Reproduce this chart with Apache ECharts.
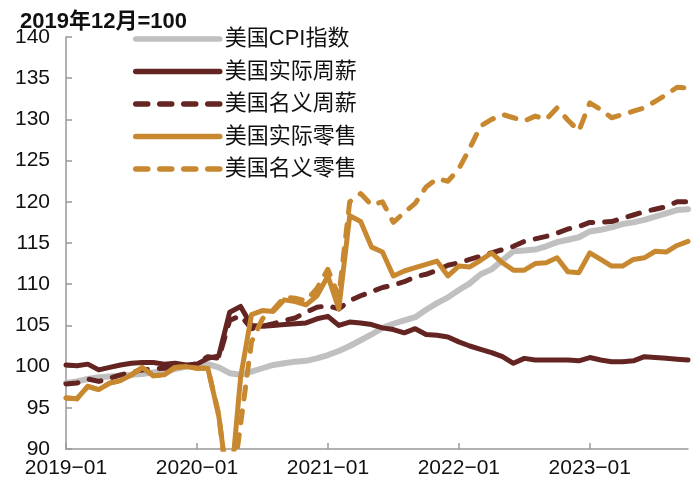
<!DOCTYPE html>
<html>
<head>
<meta charset="utf-8">
<script src="https://cdn.jsdelivr.net/npm/echarts@6/dist/echarts.min.js"></script>
<style>
html,body{margin:0;padding:0;background:#fff;}
#c{width:700px;height:501px;}
</style>
</head>
<body>
<div id="c"></div>
<script>
var categories = [
"2019-01","2019-02","2019-03","2019-04","2019-05","2019-06","2019-07","2019-08","2019-09","2019-10","2019-11","2019-12",
"2020-01","2020-02","2020-03","2020-04","2020-05","2020-06","2020-07","2020-08","2020-09","2020-10","2020-11","2020-12",
"2021-01","2021-02","2021-03","2021-04","2021-05","2021-06","2021-07","2021-08","2021-09","2021-10","2021-11","2021-12",
"2022-01","2022-02","2022-03","2022-04","2022-05","2022-06","2022-07","2022-08","2022-09","2022-10","2022-11","2022-12",
"2023-01","2023-02","2023-03","2023-04","2023-05","2023-06","2023-07","2023-08","2023-09","2023-10"];

var seriesNames = ["美国CPI指数","美国实际周薪","美国名义周薪","美国实际零售","美国名义零售"];

var cpi = [98.0,98.2,98.5,98.7,98.8,98.9,99.0,99.1,99.3,99.5,99.7,100.0,
100.2,100.3,99.9,99.2,99.0,99.4,99.8,100.2,100.4,100.6,100.7,101.0,
101.4,101.9,102.5,103.2,103.9,104.7,105.2,105.6,106.0,106.9,107.7,108.4,
109.3,110.1,111.2,111.8,112.9,114.0,114.1,114.2,114.6,115.1,115.4,115.7,
116.4,116.6,116.9,117.3,117.5,117.8,118.2,118.6,119.0,119.1];

var realWage = [100.2,100.1,100.3,99.6,99.9,100.2,100.4,100.5,100.5,100.3,100.4,100.2,
100.3,101.0,101.3,106.6,107.3,105.0,104.9,105.0,105.1,105.2,105.3,105.8,
106.1,105.0,105.4,105.3,105.1,104.7,104.5,104.1,104.6,103.9,103.8,103.6,
103.0,102.5,102.1,101.7,101.2,100.4,101.0,100.8,100.8,100.8,100.8,100.7,
101.1,100.8,100.6,100.6,100.7,101.2,101.1,101.0,100.9,100.8];

var nominalWage = [97.9,98.0,98.5,98.2,98.6,99.0,99.3,99.6,99.7,99.8,100.0,100.0,
100.4,101.2,101.0,105.6,106.2,104.6,104.9,105.2,105.6,105.9,106.6,107.2,
107.4,107.0,108.0,108.6,109.1,109.6,109.9,110.3,110.9,111.2,111.7,112.3,
112.6,113.0,113.4,113.8,114.2,114.6,115.2,115.5,115.8,116.2,116.7,117.0,
117.5,117.5,117.6,118.0,118.4,118.8,119.1,119.4,120.0,120.0];

var realRetail = [96.2,96.1,97.6,97.2,98.0,98.3,99.0,99.9,98.9,99.0,99.9,100.0,
99.8,99.8,94.0,84.0,98.7,106.3,106.8,106.7,108.1,107.9,107.5,108.6,
111.0,107.0,118.3,117.6,114.5,113.9,111.0,111.6,112.0,112.4,112.8,111.0,
112.2,112.1,112.9,113.8,112.6,111.7,111.7,112.5,112.6,113.2,111.5,111.4,
113.8,113.0,112.2,112.2,113.0,113.2,114.0,113.9,114.7,115.2];

var nominalRetail = [96.2,96.1,97.6,97.2,98.0,98.3,99.0,99.9,98.9,99.0,99.9,100.0,
99.8,99.8,94.2,83.0,93.0,103.0,105.8,106.9,108.4,108.3,108.0,109.5,
111.8,108.5,120.0,121.0,119.6,120.0,117.5,118.7,119.8,121.8,122.8,122.5,
124.0,126.5,129.2,130.0,130.6,130.2,129.8,130.4,130.0,131.4,129.9,128.6,
132.0,131.2,130.2,130.6,131.0,131.4,132.2,133.0,133.9,133.8];

var GRAY = "#c0c0c0", MAROON = "#632422", GOLD = "#c8882f";
var FONT = "Liberation Sans, Noto Sans CJK SC, sans-serif";
var DASH = [12, 12];

function mk(name, data, color, dashed, width) {
  return {
    name: name, type: "line", data: data, symbol: "none", clip: true,
    lineStyle: { color: color, width: width, type: dashed ? DASH : "solid", cap: "round", join: "round" },
    itemStyle: { color: color }
  };
}

var chart = echarts.init(document.getElementById("c"), null, { renderer: "canvas" });
chart.setOption({
  animation: false,
  backgroundColor: "#fff",
  title: {
    text: "2019年12月=100", left: 15, top: 6,
    textStyle: { fontFamily: FONT, fontSize: 22, fontWeight: "bold", color: "#111" }
  },
  legend: {
    orient: "vertical", left: 128, top: 22,
    itemWidth: 84, itemHeight: 20, itemGap: 8.5, itemTextGap: 6,
    itemStyle: { opacity: 0 },
    lineStyle: { width: 5.5, cap: "round" },
    textStyle: { fontFamily: FONT, fontSize: 22, color: "#111", lineHeight: 24 },
    data: seriesNames
  },
  grid: { left: 66, right: 12, top: 37, bottom: 52, containLabel: false },
  xAxis: {
    type: "category", data: categories, boundaryGap: false,
    axisLine: { lineStyle: { color: "#999", width: 1.5 } },
    axisTick: { inside: true, length: 6, interval: 11, lineStyle: { color: "#999", width: 1.5 } },
    axisLabel: {
      interval: 11, margin: 9, color: "#111", fontFamily: FONT, fontSize: 21,
      formatter: function (v) { return v.replace("-", "\u2212"); }
    },
    splitLine: { show: false }
  },
  yAxis: {
    type: "value", min: 90, max: 140, interval: 5,
    axisLine: { show: true, lineStyle: { color: "#999", width: 1.5 } },
    axisTick: { show: true, inside: true, length: 6, lineStyle: { color: "#999", width: 1.5 } },
    axisLabel: { margin: 16, color: "#111", fontFamily: FONT, fontSize: 21 },
    splitLine: { show: false }
  },
  series: [
    mk(seriesNames[0], cpi, GRAY, false, 6),
    mk(seriesNames[1], realWage, MAROON, false, 5),
    mk(seriesNames[2], nominalWage, MAROON, true, 5),
    mk(seriesNames[3], realRetail, GOLD, false, 5),
    mk(seriesNames[4], nominalRetail, GOLD, true, 5)
  ]
});
</script>
</body>
</html>
